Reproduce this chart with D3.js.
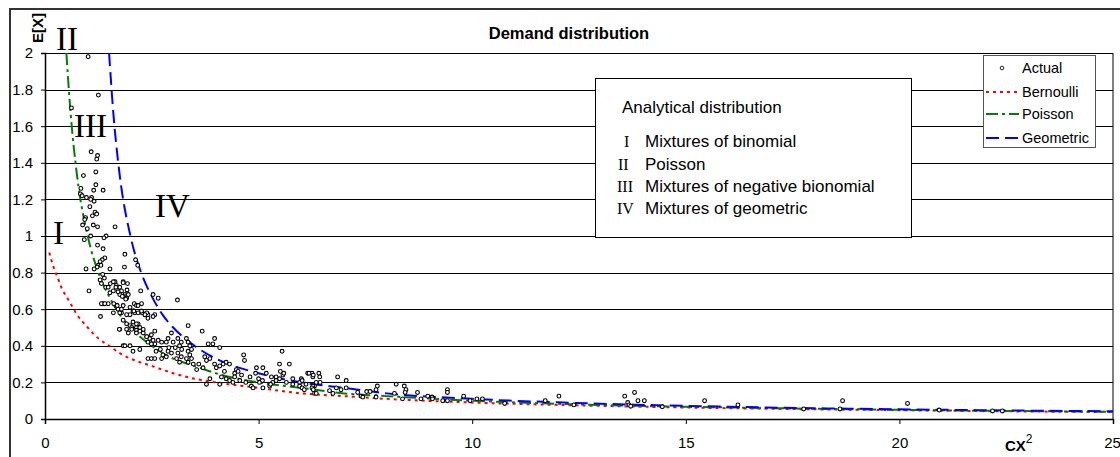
<!DOCTYPE html>
<html>
<head>
<meta charset="utf-8">
<script src="https://cdn.jsdelivr.net/npm/d3@7"></script>
<style>
  body { margin: 0; background: #fff; }
  text { font-family: "Liberation Sans", Arial, sans-serif; }
  .roman { font-family: "Liberation Serif", "Times New Roman", serif; }
</style>
</head>
<body>
<script>
// axis ticks
var xTicks = [0, 5, 10, 15, 20, 25];
var yTicks = [0, 0.2, 0.4, 0.6, 0.8, 1, 1.2, 1.4, 1.6, 1.8, 2];

// analytical curves
var bernX = [0.1, 0.2, 0.3, 0.4, 0.5, 0.6, 0.75, 1, 1.25, 1.5, 1.75, 2, 2.5, 3, 3.5, 4, 5, 6, 7, 8, 10, 12, 14, 16, 18, 20, 22, 25];
var bernY = [0.91, 0.83, 0.77, 0.71, 0.67, 0.63, 0.57, 0.5, 0.44, 0.4, 0.36, 0.33, 0.29, 0.25, 0.22, 0.2, 0.17, 0.14, 0.125, 0.11, 0.09, 0.077, 0.067, 0.059, 0.053, 0.048, 0.043, 0.038];
var poisX = [0.5, 0.6, 0.75, 1, 1.25, 1.5, 1.75, 2, 2.5, 3, 3.5, 4, 5, 6, 7, 8, 10, 12, 14, 16, 18, 20, 22, 25];
var poisY = [2, 1.67, 1.33, 1, 0.8, 0.67, 0.57, 0.5, 0.4, 0.33, 0.29, 0.25, 0.2, 0.17, 0.14, 0.125, 0.1, 0.083, 0.071, 0.063, 0.056, 0.05, 0.045, 0.04];
var geomX = [1.5, 1.6, 1.75, 2, 2.25, 2.5, 2.75, 3, 3.5, 4, 5, 6, 7, 8, 10, 12, 14, 16, 18, 20, 22, 25];
var geomY = [2, 1.67, 1.33, 1, 0.8, 0.67, 0.57, 0.5, 0.4, 0.33, 0.25, 0.2, 0.17, 0.14, 0.11, 0.091, 0.077, 0.067, 0.059, 0.053, 0.048, 0.042];

// actual observations
var actualX = [1.01,1.25,0.62,1.08,1.23,1.21,0.90,1.19,1.19,0.84,1.14,1.36,0.83,0.97,1.09,
  1.07,1.15,0.87,1.17,1.21,1.11,0.95,0.93,0.88,1.13,1.23,1.64,0.99,1.07,0.92,1.43,1.38,1.23,1.36,1.87,1.40,1.34,1.29,1.25,1.22,1.31,2.12,2.17,1.86,0.96,1.15,1.52,1.35,1.39,1.29,1.32,1.42,1.53,1.64,1.67,1.60,1.83,1.93,1.03,1.79,1.87,1.75,1.91,2.24,2.53,2.65,3.10,1.36,1.48,1.67,1.83,1.71,2.09,2.14,2.26,1.60,1.79,1.99,2.10,2.27,2.41,2.57,
  1.83,1.91,2.18,2.06,2.34,2.38,2.53,1.75,1.91,
  1.83,1.91,1.99,2.06,2.18,2.14,1.75,1.91,2.03,2.14,2.22,
  2.30,2.38,2.45,2.49,2.41,2.53,2.57,2.65,2.73,2.84,2.88,3.00,3.11,3.15,3.19,2.96,3.35,3.68,
  3.31,3.35,3.39,3.43,3.35,3.39,3.31,3.43,3.35,3.47,
  3.82,3.93,3.97,4.09,2.22,2.06,1.83,1.99,
  2.41,2.49,2.57,2.73,2.76,2.88,2.96,2.84,
  3.11,3.08,3.15,3.19,3.74,3.78,3.86,
  3.97,4.01,4.09,4.17,4.24,4.32,4.48,4.52,4.44,4.65,4.67,4.95,5.10,5.18,5.55,5.49,5.72,5.41,5.49,5.57,
  4.13,4.24,4.32,3.86,3.78,4.09,4.40,4.44,4.56,4.83,4.87,5.02,5.10,5.26,5.33,5.65,5.80,6.00,6.15,6.27,6.31,6.35,6.41,
  5.51,5.59,6.25,6.43,6.85,4.93,5.09,5.28,5.41,5.96,6.11,6.27,5.96,
  1.05,1.48,1.52,1.32,1.40,1.30,1.74,1.87,
  1.60,1.66,1.75,1.83,1.92,1.95,1.71,1.81,1.89,1.61,1.69,1.79,1.99,2.08,2.18,2.26,2.34,2.41,2.14,2.22,2.30,2.03,1.95,2.14,2.38,2.57,2.53,2.49,
  3.60,3.70,3.55,4.20,4.60,4.80,5.00,4.70,5.30,5.80,3.20,3.05,2.90,2.70,2.60,
  6.18,6.28,6.02,6.44,7.05,6.02,6.07,6.25,6.28,6.31,6.35,6.66,6.74,6.82,6.93,7.05,7.32,7.40,7.44,7.53,7.61,7.75,7.78,7.75,8.22,8.18,8.37,8.41,8.45,8.43,8.72,8.80,8.96,9.06,9.07,9.31,9.42,9.42,9.42,9.80,9.95,10.11,10.24,10.76,11.71,12.03,12.38,
  13.57,13.80,13.88,14.03,13.64,13.67,13.71,14.45,15.44,16.22,17.76,18.67,18.61,20.19,20.93,22.18,22.41];
var actualY = [1.98,1.77,1.70,1.46,1.44,1.42,1.33,1.35,1.28,1.26,1.25,1.25,1.23,1.21,1.21,
  1.20,1.19,1.22,1.13,1.12,1.11,1.10,1.09,1.06,1.06,1.05,1.05,1.04,1.00,0.98,1.00,0.99,0.95,0.93,0.90,0.88,0.87,0.86,0.84,0.83,0.84,0.87,0.84,0.83,0.82,0.82,0.82,0.79,0.77,0.76,0.74,0.72,0.74,0.75,0.73,0.70,0.75,0.74,0.70,0.70,0.68,0.68,0.67,0.70,0.68,0.66,0.65,0.63,0.63,0.62,0.62,0.60,0.63,0.62,0.63,0.58,0.58,0.57,0.58,0.58,0.57,0.57,
  0.67,0.66,0.62,0.59,0.57,0.58,0.56,0.58,0.57,
  0.54,0.52,0.51,0.53,0.52,0.50,0.49,0.49,0.50,0.485,0.48,
  0.47,0.45,0.44,0.46,0.42,0.42,0.41,0.43,0.42,0.42,0.44,0.42,0.44,0.40,0.42,0.47,0.51,0.48,
  0.44,0.42,0.40,0.38,0.37,0.35,0.33,0.33,0.31,0.30,
  0.41,0.41,0.44,0.39,0.38,0.37,0.40,0.40,
  0.33,0.33,0.33,0.33,0.35,0.37,0.36,0.34,
  0.36,0.33,0.31,0.34,0.34,0.32,0.33,
  0.30,0.28,0.29,0.30,0.31,0.30,0.27,0.26,0.25,0.35,0.32,0.28,0.28,0.25,0.37,0.30,0.30,0.23,0.22,0.24,
  0.23,0.22,0.21,0.22,0.19,0.19,0.20,0.23,0.21,0.18,0.17,0.20,0.17,0.18,0.20,0.20,0.19,0.22,0.25,0.23,0.18,0.20,0.25,
  0.26,0.25,0.25,0.23,0.23,0.25,0.21,0.19,0.21,0.20,0.19,0.18,0.18,
  1.16,0.72,0.69,0.63,0.63,0.56,0.49,0.40,
  0.75,0.72,0.72,0.745,0.705,0.68,0.695,0.67,0.655,0.63,0.62,0.60,0.61,0.59,0.58,0.59,0.57,0.55,0.52,0.50,0.49,0.49,0.47,0.47,0.45,0.48,0.43,0.41,
  0.30,0.28,0.27,0.26,0.24,0.23,0.22,0.20,0.23,0.22,0.38,0.39,0.39,0.38,0.37,
  0.25,0.24,0.21,0.20,0.21,0.17,0.16,0.17,0.16,0.14,0.14,0.155,0.14,0.17,0.16,0.17,0.145,0.125,0.12,0.15,0.15,0.16,0.18,0.12,0.19,0.14,0.11,0.18,0.16,0.145,0.145,0.11,0.125,0.12,0.11,0.10,0.16,0.145,0.10,0.125,0.10,0.11,0.11,0.085,0.10,0.125,0.077,
  0.125,0.145,0.10,0.10,0.09,0.077,0.07,0.067,0.10,0.077,0.055,0.10,0.055,0.085,0.049,0.044,0.044];

var width = 1120, height = 457;
var svg = d3.select('body').append('svg').attr('width', width).attr('height', height);

var x = d3.scaleLinear().domain([0, 25]).range([45, 1113]);
var y = d3.scaleLinear().domain([0, 2]).range([419, 53]);

// outer frame (cropped on right/bottom)
svg.append('path').attr('d', 'M10,' + height + 'V9H' + width)
  .attr('fill', 'none').attr('stroke', '#333').attr('stroke-width', 2);

// gridlines
svg.append('g').selectAll('line').data(yTicks).enter().append('line')
  .attr('x1', x(0)).attr('x2', x(25))
  .attr('y1', function (d) { return Math.round(y(d)) + 0.5; })
  .attr('y2', function (d) { return Math.round(y(d)) + 0.5; })
  .attr('stroke', '#000').attr('stroke-width', 1);

// right border of plot
svg.append('line').attr('x1', x(25)).attr('x2', x(25)).attr('y1', y(2)).attr('y2', y(0))
  .attr('stroke', '#000');

// axes
var yAxis = svg.append('g').attr('transform', 'translate(' + x(0) + ',0)')
  .call(d3.axisLeft(y).tickValues(yTicks).tickSize(4).tickPadding(8).tickFormat(d3.format('')));
var xAxis = svg.append('g').attr('transform', 'translate(0,' + y(0) + ')')
  .call(d3.axisBottom(x).tickValues(xTicks).tickSize(5).tickPadding(13));
[yAxis, xAxis].forEach(function (a) {
  a.select('.domain').attr('stroke', '#000').attr('stroke-width', 1.5);
  a.selectAll('.tick line').attr('stroke', '#000');
  a.selectAll('.tick text').attr('fill', '#000').style('font-size', '15px')
    .style('font-family', '"Liberation Sans", Arial, sans-serif');
});
// last x label sits on the right edge
xAxis.selectAll('.tick text').filter(function (d) { return d === 25; }).attr('dx', -1).attr('text-anchor', 'middle');

// clip curves to plot
svg.append('clipPath').attr('id', 'clip').append('rect')
  .attr('x', x(0)).attr('y', y(2)).attr('width', x(25) - x(0)).attr('height', y(0) - y(2));

var line = d3.line()
  .x(function (d) { return x(d[0]); })
  .y(function (d) { return y(d[1]); })
  .curve(d3.curveMonotoneX);

var curves = [
  { name: 'Bernoulli', xs: bernX, ys: bernY, color: '#ff0000', dash: '3,4' },
  { name: 'Poisson', xs: poisX, ys: poisY, color: '#008000', dash: '12,4,3,4' },
  { name: 'Geometric', xs: geomX, ys: geomY, color: '#0000ff', dash: '13,6' }
];

var cg = svg.append('g').attr('clip-path', 'url(#clip)');
curves.forEach(function (c) {
  cg.append('path')
    .datum(d3.zip(c.xs, c.ys))
    .attr('d', line)
    .attr('fill', 'none')
    .attr('stroke', c.color)
    .attr('stroke-width', 2)
    .attr('stroke-dasharray', c.dash);
});

// scatter
svg.append('g').selectAll('circle')
  .data(d3.zip(actualX, actualY))
  .enter().append('circle')
  .attr('cx', function (d) { return x(d[0]); })
  .attr('cy', function (d) { return y(d[1]); })
  .attr('r', 1.9)
  .attr('fill', '#fff')
  .attr('stroke', '#000')
  .attr('stroke-width', 1.1);

// titles
svg.append('text').attr('x', 569).attr('y', 39).attr('text-anchor', 'middle')
  .style('font-size', '16.5px').style('font-weight', 'bold').text('Demand distribution');
svg.append('text').attr('transform', 'translate(43,28) rotate(-90)').attr('text-anchor', 'middle')
  .style('font-size', '15px').style('font-weight', 'bold').text('E[X]');
var xt = svg.append('text').attr('x', 1005).attr('y', 451).style('font-size', '15px').style('font-weight', 'bold');
xt.append('tspan').text('CX');
xt.append('tspan').attr('dy', -8).style('font-size', '12px').style('font-weight', 'normal').text('2');

// roman region labels
var romans = [
  { t: 'II', x: 56, y: 50 },
  { t: 'III', x: 74, y: 137 },
  { t: 'IV', x: 155, y: 217 },
  { t: 'I', x: 53, y: 244 }
];
svg.append('g').selectAll('text').data(romans).enter().append('text')
  .attr('class', 'roman')
  .attr('x', function (d) { return d.x; })
  .attr('y', function (d) { return d.y; })
  .style('font-size', '33px')
  .text(function (d) { return d.t; });

// analytical distribution box
var ab = svg.append('g');
ab.append('rect').attr('x', 595.5).attr('y', 78.5).attr('width', 316).attr('height', 159)
  .attr('fill', '#fff').attr('stroke', '#000');
ab.append('text').attr('x', 622).attr('y', 113).style('font-size', '17px').text('Analytical distribution');
var items = [
  { r: 'I', rx: 624, t: 'Mixtures of binomial', y: 147 },
  { r: 'II', rx: 618, t: 'Poisson', y: 170 },
  { r: 'III', rx: 617, t: 'Mixtures of negative bionomial', y: 192 },
  { r: 'IV', rx: 617, t: 'Mixtures of geometric', y: 214 }
];
items.forEach(function (d) {
  ab.append('text').attr('class', 'roman').attr('x', d.rx).attr('y', d.y)
    .style('font-size', '16px').text(d.r);
  ab.append('text').attr('x', 645).attr('y', d.y).style('font-size', '17px').text(d.t);
});

// legend
var lg = svg.append('g');
lg.append('rect').attr('x', 983.5).attr('y', 55.5).attr('width', 112).attr('height', 92)
  .attr('fill', '#fff').attr('stroke', '#555');
var legendRows = ['Actual', 'Bernoulli', 'Poisson', 'Geometric'];
var rowY = [68, 92, 114, 138];
legendRows.forEach(function (name, i) {
  if (i === 0) {
    lg.append('circle').attr('cx', 1002).attr('cy', rowY[i]).attr('r', 1.8)
      .attr('fill', '#fff').attr('stroke', '#222');
  } else {
    var c = curves[i - 1];
    lg.append('line').attr('x1', 986).attr('x2', 1019).attr('y1', rowY[i]).attr('y2', rowY[i])
      .attr('stroke', c.color).attr('stroke-width', 2).attr('stroke-dasharray', c.dash);
  }
  lg.append('text').attr('x', 1022).attr('y', rowY[i] + 5).style('font-size', '14.5px').text(name);
});
</script>
</body>
</html>
